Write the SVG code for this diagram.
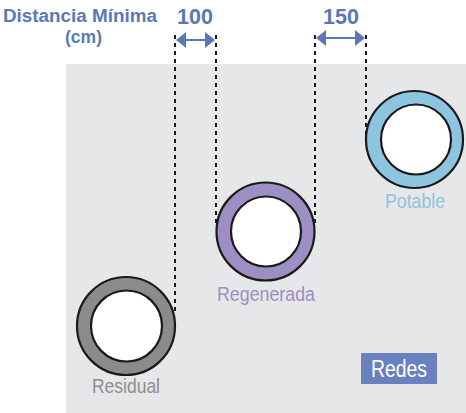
<svg xmlns="http://www.w3.org/2000/svg" width="466" height="413" viewBox="0 0 466 413">
<style>
.lbl{font-family:"Liberation Sans",Arial,sans-serif;}
.hdr{font-family:"Liberation Sans",Arial,sans-serif;font-weight:bold;fill:#5b78b6;}
.ring{stroke:#1a1a1a;stroke-width:2.2;}
.hole{fill:#fff;stroke:#1a1a1a;stroke-width:2.2;}
.dash{stroke:#1a1a1a;stroke-width:2;stroke-dasharray:4 4;fill:none;}
.dim{stroke:#5b78b6;stroke-width:2;fill:none;}
</style>
<defs>
<marker id="ah" viewBox="0 0 10 16" refX="9" refY="8" markerWidth="10" markerHeight="16" markerUnits="userSpaceOnUse" orient="auto-start-reverse">
<path d="M0,0 L10,8 L0,16 Z" fill="#5b78b6"/>
</marker>
</defs>
<rect x="66" y="64" width="400" height="349" fill="#e6e7e8"/>
<g id="header">
<text class="hdr" x="80" y="22" font-size="17.5" text-anchor="middle" textLength="154" lengthAdjust="spacingAndGlyphs">Distancia Mínima</text>
<text class="hdr" x="83.5" y="43" font-size="17.5" text-anchor="middle">(cm)</text>
<text class="hdr" x="195" y="24" font-size="21.5" text-anchor="middle">100</text>
<text class="hdr" x="341" y="24" font-size="21.5" text-anchor="middle">150</text>
</g>
<g id="connectors">
<line class="dash" x1="175" y1="35" x2="175" y2="312"/>
<line class="dash" x1="216" y1="35" x2="216" y2="224"/>
<line class="dash" x1="315" y1="35" x2="315" y2="224"/>
<line class="dash" x1="366" y1="35" x2="366" y2="134"/>
<line class="dim" x1="177" y1="40" x2="214" y2="40" marker-start="url(#ah)" marker-end="url(#ah)"/>
<line class="dim" x1="317" y1="38" x2="364" y2="38" marker-start="url(#ah)" marker-end="url(#ah)"/>
</g>
<g id="residual">
<circle class="ring" cx="126" cy="326" r="49" fill="#8a8b8c"/>
<circle class="hole" cx="126.5" cy="326" r="35.5"/>
<text class="lbl" x="126" y="393" font-size="20.5" fill="#8d8e90" text-anchor="middle" textLength="68" lengthAdjust="spacingAndGlyphs">Residual</text>
</g>
<g id="regenerada">
<circle class="ring" cx="265.5" cy="231.5" r="49" fill="#9d8ec4"/>
<circle class="hole" cx="266" cy="231.5" r="35"/>
<text class="lbl" x="266" y="301" font-size="20.5" fill="#9d8ec4" text-anchor="middle" textLength="98" lengthAdjust="spacingAndGlyphs">Regenerada</text>
</g>
<g id="potable">
<circle class="ring" cx="414.5" cy="139.5" r="48.5" fill="#8dc4df"/>
<circle class="hole" cx="416" cy="139.5" r="35"/>
<text class="lbl" x="415" y="208" font-size="20.5" fill="#8dc4df" text-anchor="middle" textLength="60" lengthAdjust="spacingAndGlyphs">Potable</text>
</g>
<g id="redes">
<rect x="361" y="353" width="76" height="31" fill="#6a81bf"/>
<text class="lbl" x="399" y="377" font-size="23.5" fill="#fff" text-anchor="middle" textLength="56" lengthAdjust="spacingAndGlyphs">Redes</text>
</g>
</svg>
